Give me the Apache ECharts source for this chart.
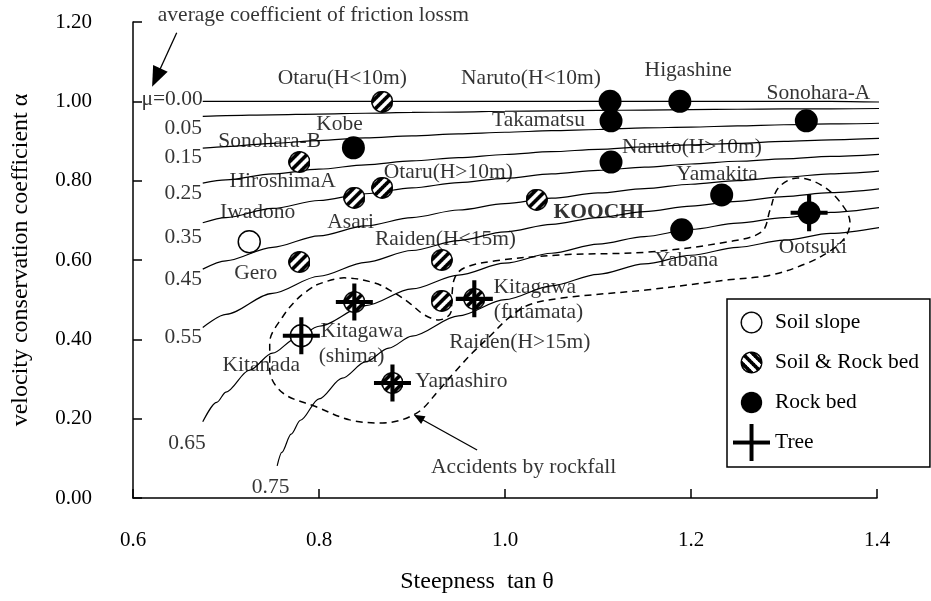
<!DOCTYPE html>
<html><head><meta charset="utf-8">
<script src="https://cdn.jsdelivr.net/npm/echarts@6/dist/echarts.min.js"></script>
<style>html,body{margin:0;padding:0;background:#fff}#chart{width:931px;height:601px}</style>
</head><body><div id="chart"></div>
<script>
// ---- tick labels ----
const xTickValues = [0.6, 0.8, 1.0, 1.2, 1.4];
const xTickLabels = ['0.6', '0.8', '1.0', '1.2', '1.4'];
const yTickValues = [0, 0.2, 0.4, 0.6, 0.8, 1.0, 1.2];
const yTickLabels = ['0.00', '0.20', '0.40', '0.60', '0.80', '1.00', '1.20'];

// ---- friction-loss curves (tan θ , α) ----
const curveX = [0.675, 0.70, 0.75, 0.80, 0.85, 0.90, 0.95, 1.00, 1.05, 1.10, 1.15, 1.20, 1.25, 1.30, 1.35, 1.408];
const mu000 = [1.000, 1.000, 1.000, 1.000, 1.000, 1.000, 1.000, 1.000, 1.000, 1.000, 1.000, 1.000, 1.000, 1.000, 1.000, 0.998];
const mu005 = [0.962, 0.964, 0.966, 0.968, 0.970, 0.972, 0.973, 0.975, 0.976, 0.977, 0.978, 0.979, 0.980, 0.981, 0.981, 0.982];
const mu015 = [0.882, 0.886, 0.894, 0.901, 0.908, 0.913, 0.918, 0.922, 0.926, 0.929, 0.933, 0.935, 0.938, 0.941, 0.943, 0.945];
const mu025 = [0.794, 0.802, 0.817, 0.829, 0.840, 0.850, 0.858, 0.866, 0.873, 0.879, 0.885, 0.890, 0.894, 0.899, 0.903, 0.907];
const mu035 = [0.694, 0.707, 0.730, 0.750, 0.767, 0.782, 0.795, 0.806, 0.817, 0.826, 0.834, 0.842, 0.849, 0.855, 0.861, 0.867];
const mu045 = [0.577, 0.598, 0.632, 0.661, 0.686, 0.707, 0.726, 0.742, 0.756, 0.769, 0.780, 0.791, 0.800, 0.809, 0.817, 0.825];
const mu055 = [0.430, 0.463, 0.516, 0.559, 0.594, 0.624, 0.649, 0.671, 0.690, 0.707, 0.722, 0.736, 0.748, 0.760, 0.770, 0.781];
const mu065X = [0.675, 0.69, 0.70, 0.725, 0.75, 0.775, 0.80, 0.85, 0.90, 0.95, 1.00, 1.05, 1.10, 1.15, 1.20, 1.25, 1.30, 1.35, 1.408];
const mu065 = [0.192, 0.241, 0.267, 0.322, 0.365, 0.402, 0.433, 0.485, 0.527, 0.562, 0.592, 0.617, 0.640, 0.659, 0.677, 0.693, 0.707, 0.720, 0.734];
const mu075X = [0.755, 0.76, 0.77, 0.78, 0.80, 0.825, 0.85, 0.875, 0.90, 0.95, 1.00, 1.05, 1.10, 1.15, 1.20, 1.25, 1.30, 1.35, 1.408];
const mu075 = [0.081, 0.115, 0.161, 0.196, 0.250, 0.302, 0.343, 0.378, 0.408, 0.459, 0.500, 0.535, 0.564, 0.590, 0.612, 0.632, 0.650, 0.667, 0.684];

// curve labels
const curveLabelTexts = ['μ=0.00', '0.05', '0.15', '0.25', '0.35', '0.45', '0.55', '0.65', '0.75'];
const curveLabelX = [0.642, 0.654, 0.654, 0.654, 0.654, 0.654, 0.654, 0.658, 0.748];
const curveLabelY = [1.004, 0.933, 0.860, 0.769, 0.658, 0.552, 0.404, 0.139, 0.028];

// ---- observed sites ----
const soilSlopeNames = ['Iwadono', 'Kitanada'];
const soilSlopeX = [0.725, 0.781];
const soilSlopeY = [0.646, 0.409];

const soilRockNames = ['Otaru(H<10m)', 'Sonohara-B', 'Otaru(H>10m)', 'Asari', 'KOOCHI', 'Gero', 'Raiden(H<15m)', 'Raiden(H>15m)', 'Kitagawa(shima)', 'Kitagawa(futamata)', 'Yamashiro'];
const soilRockX = [0.868, 0.779, 0.868, 0.838, 1.034, 0.779, 0.932, 0.932, 0.838, 0.967, 0.879];
const soilRockY = [0.999, 0.847, 0.782, 0.757, 0.752, 0.595, 0.600, 0.497, 0.494, 0.502, 0.290];

const rockBedNames = ['Naruto(H<10m)', 'Higashine', 'Takamatsu', 'Sonohara-A', 'Kobe', 'Naruto(H>10m)', 'Yamakita', 'Yabana', 'Ootsuki'];
const rockBedX = [1.113, 1.188, 1.114, 1.324, 0.837, 1.114, 1.233, 1.190, 1.327];
const rockBedY = [1.000, 1.000, 0.951, 0.951, 0.883, 0.847, 0.764, 0.676, 0.719];

const treeNames = ['Kitanada', 'Kitagawa(shima)', 'Yamashiro', 'Kitagawa(futamata)', 'Ootsuki'];
const treeX = [0.781, 0.838, 0.879, 0.967, 1.327];
const treeY = [0.409, 0.494, 0.290, 0.502, 0.719];

// ---- accidents-by-rockfall outline ----
const regionX = [0.797, 0.827, 0.860, 0.879, 0.897, 0.913, 0.929, 0.942, 0.943, 0.946, 0.956, 0.990, 1.061, 1.154, 1.240, 1.276, 1.285, 1.294, 1.315, 1.340, 1.361, 1.371, 1.366, 1.351, 1.326, 1.286, 1.240, 1.154, 1.061, 1.026, 1.004, 0.983, 0.965, 0.945, 0.929, 0.905, 0.868, 0.833, 0.797, 0.761, 0.747, 0.747, 0.761, 0.779, 0.797];
const regionY = [0.537, 0.555, 0.542, 0.520, 0.492, 0.462, 0.449, 0.469, 0.512, 0.555, 0.580, 0.598, 0.613, 0.620, 0.646, 0.671, 0.726, 0.782, 0.807, 0.789, 0.744, 0.694, 0.658, 0.625, 0.593, 0.562, 0.550, 0.525, 0.504, 0.487, 0.454, 0.406, 0.366, 0.315, 0.272, 0.214, 0.189, 0.197, 0.230, 0.265, 0.323, 0.391, 0.457, 0.507, 0.537];

// ---- text annotations ----
const noteTexts = ['Otaru(H<10m)', 'Naruto(H<10m)', 'Higashine', 'Sonohara-A', 'Kobe', 'Takamatsu', 'Sonohara-B', 'Naruto(H>10m)', 'HiroshimaA', 'Otaru(H>10m)', 'Yamakita', 'Asari', 'KOOCHI', 'Iwadono', 'Raiden(H<15m)', 'Gero', 'Yabana', 'Ootsuki', 'Kitagawa', '(futamata)', 'Raiden(H>15m)', 'Kitagawa', '(shima)', 'Kitanada', 'Yamashiro', 'Accidents by rockfall', 'average coefficient of friction lossm'];
const noteX = [0.825, 1.028, 1.197, 1.337, 0.822, 1.036, 0.747, 1.201, 0.761, 0.939, 1.228, 0.834, 1.101, 0.734, 0.936, 0.732, 1.195, 1.331, 1.032, 1.036, 1.016, 0.846, 0.835, 0.738, 0.953, 1.020, 0.794];
const noteY = [1.059, 1.059, 1.077, 1.019, 0.941, 0.951, 0.898, 0.883, 0.797, 0.822, 0.817, 0.694, 0.721, 0.719, 0.651, 0.567, 0.600, 0.633, 0.532, 0.467, 0.393, 0.419, 0.356, 0.335, 0.293, 0.076, 1.218];

// arrows: [startX, startY, headX, headY]
const arrowTop = [0.647, 1.173, 0.625, 1.060];
const arrowBottom = [0.970, 0.121, 0.907, 0.203];

// ---------------------------------------------------------------
const FONT = '"Liberation Serif", "Times New Roman", serif';
const FS = 21.5;
const zip = (xs, ys) => xs.map((x, i) => [x, ys[i]]);

// icon images (style only)
function makeIcon(kind, boxPx, circlePx, slash) {
  const k = 3, S = boxPx * k, c = document.createElement('canvas');
  c.width = S; c.height = S;
  const g = c.getContext('2d');
  const cx = S / 2, cy = S / 2;
  if (kind === 'cross') {
    const arm = S / 2, th = 4 * k;
    g.fillStyle = '#000';
    g.fillRect(cx - th / 2, cy - arm, th, 2 * arm);
    g.fillRect(cx - arm, cy - th / 2, 2 * arm, th);
    return 'image://' + c.toDataURL();
  }
  const bw = 1.5 * k, r = circlePx * k / 2 - bw / 2;
  g.beginPath(); g.arc(cx, cy, r, 0, Math.PI * 2);
  if (kind === 'filled') { g.fillStyle = '#000'; g.fill(); return 'image://' + c.toDataURL(); }
  g.fillStyle = '#fff'; g.fill();
  if (kind === 'hatch') {
    g.save(); g.beginPath(); g.arc(cx, cy, r, 0, Math.PI * 2); g.clip();
    g.strokeStyle = '#000'; g.lineWidth = 3.6 * k;
    const period = 7.2 * k;
    const d = slash ? [1, -1] : [1, 1];
    const n = slash ? [1, 1] : [1, -1];
    const s2 = Math.SQRT1_2;
    for (let i = -3; i <= 3; i++) {
      const ox = cx + n[0] * s2 * i * period, oy = cy + n[1] * s2 * i * period;
      g.beginPath();
      g.moveTo(ox - d[0] * s2 * S, oy - d[1] * s2 * S);
      g.lineTo(ox + d[0] * s2 * S, oy + d[1] * s2 * S);
      g.stroke();
    }
    g.restore();
  }
  g.beginPath(); g.arc(cx, cy, r, 0, Math.PI * 2);
  g.strokeStyle = '#000'; g.lineWidth = bw; g.stroke();
  return 'image://' + c.toDataURL();
}
const hatchSymbol = makeIcon('hatch', 22, 22, true);
const LEG = 37;
const legendIcons = {
  'Soil slope': makeIcon('open', LEG, 22),
  'Soil & Rock bed': makeIcon('hatch', LEG, 22, false),
  'Rock bed': makeIcon('filled', LEG, 23),
  'Tree': makeIcon('cross', LEG, 0)
};
const crossPath = 'path://M16,0L20,0L20,16L36,16L36,20L20,20L20,36L16,36L16,20L0,20L0,16L16,16Z';

const curveSeries = [
  [curveX, mu000], [curveX, mu005], [curveX, mu015], [curveX, mu025], [curveX, mu035],
  [curveX, mu045], [curveX, mu055], [mu065X, mu065], [mu075X, mu075]
].map(([xs, ys]) => ({
  type: 'line', data: zip(xs, ys), showSymbol: false, symbol: 'none', smooth: 0.3,
  smoothMonotone: 'x', silent: true, z: 2, clip: false,
  lineStyle: { color: '#000', width: 1.2 }
}));

const pointsByName = (names, xs, ys) => names.map((n, i) => ({ name: n, value: [xs[i], ys[i]] }));
const legendNames = ['Soil slope', 'Soil & Rock bed', 'Rock bed', 'Tree'];

const option = {
  animation: false,
  backgroundColor: '#fff',
  grid: { left: 133, right: 54, top: 22, bottom: 103, containLabel: false },
  xAxis: {
    type: 'value', min: 0.6, max: 1.4, interval: 0.2,
    name: 'Steepness  tan θ', nameLocation: 'middle', nameGap: 72,
    nameTextStyle: { fontFamily: FONT, fontSize: 24, color: '#000', padding: [0, 56, 0, 0] },
    axisLine: { show: true, lineStyle: { color: '#000', width: 1.5 } },
    axisTick: { show: true, inside: true, length: 9, lineStyle: { color: '#000', width: 1.5 } },
    axisLabel: {
      margin: 32, fontFamily: FONT, fontSize: 21, color: '#000',
      formatter: v => { const i = xTickValues.findIndex(t => Math.abs(t - v) < 1e-6); return i >= 0 ? xTickLabels[i] : ''; }
    },
    splitLine: { show: false }
  },
  yAxis: {
    type: 'value', min: 0, max: 1.2, interval: 0.2,
    name: 'velocity conservation coefficient α', nameLocation: 'middle', nameGap: 100, nameRotate: 90,
    nameTextStyle: { fontFamily: FONT, fontSize: 24, color: '#000' },
    axisLine: { show: true, lineStyle: { color: '#000', width: 1.5 } },
    axisTick: { show: true, inside: true, length: 9, lineStyle: { color: '#000', width: 1.5 } },
    axisLabel: {
      margin: 41, fontFamily: FONT, fontSize: 21, color: '#000',
      formatter: v => { const i = yTickValues.findIndex(t => Math.abs(t - v) < 1e-6); return i >= 0 ? yTickLabels[i] : ''; }
    },
    splitLine: { show: false }
  },
  legend: {
    left: 727, top: 299, orient: 'vertical',
    data: legendNames.map(n => ({ name: n, icon: legendIcons[n] })),
    itemWidth: LEG, itemHeight: LEG, itemGap: 3,
    padding: [5, 11, 6, 6],
    borderColor: '#000', borderWidth: 1.5, backgroundColor: '#fff',
    textStyle: { fontFamily: FONT, fontSize: FS, color: '#000' },
    selectedMode: false
  },
  series: [
    ...curveSeries,
    {
      type: 'line', data: zip(regionX, regionY), symbol: 'none', showSymbol: false, smooth: 0.35,
      silent: true, z: 3,
      lineStyle: { color: '#000', width: 1.5, type: [7, 5] }
    },
    {
      name: 'Soil slope', type: 'scatter', symbol: 'circle', symbolSize: 22, z: 5,
      data: pointsByName(soilSlopeNames, soilSlopeX, soilSlopeY),
      itemStyle: { color: '#fff', borderColor: '#000', borderWidth: 1.5, opacity: 1 }
    },
    {
      name: 'Soil & Rock bed', type: 'scatter', symbol: hatchSymbol, symbolSize: 22, symbolKeepAspect: true, z: 5,
      data: pointsByName(soilRockNames, soilRockX, soilRockY),
      itemStyle: { opacity: 1 }
    },
    {
      name: 'Rock bed', type: 'scatter', symbol: 'circle', symbolSize: 23, z: 5,
      data: pointsByName(rockBedNames, rockBedX, rockBedY),
      itemStyle: { color: '#000', opacity: 1 }
    },
    {
      name: 'Tree', type: 'scatter', symbol: crossPath, symbolSize: 37, symbolKeepAspect: true, z: 6,
      data: pointsByName(treeNames, treeX, treeY),
      itemStyle: { color: '#000', opacity: 1 }
    },
    {
      type: 'scatter', symbolSize: 0, silent: true, clip: false, z: 8,
      itemStyle: { color: 'rgba(0,0,0,0)' },
      label: {
        show: true, position: 'inside', formatter: '{b}', align: 'center', verticalAlign: 'middle',
        fontFamily: FONT, fontSize: FS, color: '#000'
      },
      data: noteTexts.map((t, i) => ({
        name: t, value: [noteX[i], noteY[i]],
        label: t === 'KOOCHI' ? { fontWeight: 'bold' } : undefined
      })).concat(curveLabelTexts.map((t, i) => ({ name: t, value: [curveLabelX[i], curveLabelY[i]] }))),
      markLine: {
        silent: true, animation: false,
        label: { show: false },
        lineStyle: { color: '#000', width: 1.3, type: 'solid' },
        data: [
          [{ coord: [arrowTop[0], arrowTop[1]], symbol: 'none' },
           { coord: [arrowTop[2], arrowTop[3]], symbol: 'triangle', symbolSize: [16, 20] }],
          [{ coord: [arrowBottom[0], arrowBottom[1]], symbol: 'none' },
           { coord: [arrowBottom[2], arrowBottom[3]], symbol: 'triangle', symbolSize: [9, 11] }]
        ]
      }
    }
  ]
};

const chart = echarts.init(document.getElementById('chart'), null, { renderer: 'canvas' });
chart.setOption(option);
</script>
</body></html>
